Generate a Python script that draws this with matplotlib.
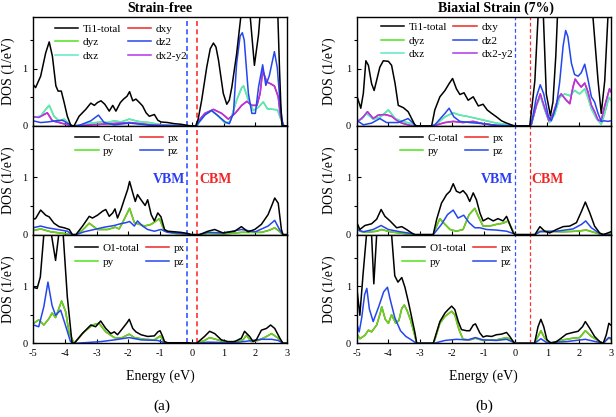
import matplotlib
matplotlib.use("Agg")
import matplotlib.pyplot as plt
from matplotlib.ticker import MultipleLocator, FixedLocator

plt.rcParams['font.family'] = ['Liberation Serif', 'DejaVu Serif']
plt.rcParams['axes.unicode_minus'] = False

# ---------------- (a) strain-free ----------------
# Ti1 panel
a_ti_total_e = [-5.0, -4.92, -4.76, -4.6, -4.49, -4.39, -4.28, -4.21, -4.11, -4.02, -3.92, -3.81, -3.71,
                -3.55, -3.34, -3.18, -3.07, -2.97, -2.86, -2.74, -2.6, -2.49, -2.39, -2.25, -2.15, -2.04,
                -1.96, -1.86, -1.76, -1.65, -1.55, -1.44, -1.34, -1.18, -1.07, -0.97, -0.76, -0.55, -0.34,
                -0.13, -0.02, 0.12, 0.2, 0.31, 0.47, 0.58, 0.68, 0.76, 0.84, 0.99, 1.1, 1.18, 1.26, 1.41,
                1.52, 1.6, 1.7, 1.78, 1.84, 1.97, 2.1, 2.15, 2.3, 2.5, 2.65, 2.71, 2.76, 2.8, 2.84, 2.9, 3.0]
a_ti_total = [0.73, 0.67, 0.87, 1.28, 1.47, 1.22, 0.70, 0.61, 0.61, 0.41, 0.17, 0.01, 0.0,
              0.17, 0.29, 0.40, 0.36, 0.41, 0.44, 0.38, 0.26, 0.36, 0.26, 0.41, 0.47, 0.52,
              0.60, 0.44, 0.47, 0.41, 0.35, 0.23, 0.17, 0.20, 0.10, 0.07, 0.06, 0.04, 0.03,
              0.01, 0.0, 0.0, 0.12, 0.45, 1.03, 1.35, 1.45, 1.38, 1.15, 0.57, 0.38, 0.45, 0.68, 1.26,
              1.8, 2.2, 2.4, 2.1, 1.9, 1.06, 1.6, 1.95, 2.8, 3.0, 2.5, 1.9, 1.0, 0.4, 0.0, 0.0, 0.0]

a_ti_dz2_e = [-5.0, -4.76, -4.55, -4.28, -4.07, -3.92, -3.75, -3.55, -3.18, -2.94, -2.76, -2.44, -1.96,
              -1.26, -0.5, -0.1, 0.15, 0.2, 0.41, 0.62, 0.8, 1.05, 1.18, 1.31, 1.41, 1.52, 1.59, 1.65,
              1.78, 1.89, 2.0, 2.1, 2.23, 2.33, 2.44, 2.6, 2.69, 2.79, 2.86, 2.9, 3.0]
a_ti_dz2 = [0.09, 0.06, 0.07, 0.09, 0.10, 0.05, 0.0, 0.01, 0.09, 0.19, 0.06, 0.02, 0.05,
            0.01, 0.005, 0.0, 0.0, 0.05, 0.19, 0.27, 0.19, 0.07, 0.04, 0.22, 1.09, 1.57, 1.63, 1.5,
            0.57, 0.22, 0.22, 0.68, 1.07, 0.71, 0.88, 1.3, 1.02, 0.32, 0.05, 0.0, 0.0]

a_ti_dx2y2_e = [-5.0, -4.82, -4.55, -4.39, -4.18, -3.97, -3.75, -3.5, -2.86, -1.96, -1.3, -0.5, -0.1,
                0.15, 0.2, 0.41, 0.68, 0.94, 1.15, 1.36, 1.57, 1.73, 1.89, 2.05, 2.15, 2.23, 2.36, 2.47,
                2.6, 2.72, 2.79, 2.86, 2.9, 3.0]
a_ti_dx2y2 = [0.16, 0.15, 0.23, 0.09, 0.06, 0.03, 0.0, 0.01, 0.03, 0.06, 0.02, 0.005, 0.0,
              0.0, 0.08, 0.22, 0.29, 0.22, 0.12, 0.22, 0.36, 0.43, 0.36, 0.36, 0.57, 0.97, 0.77, 0.74,
              0.70, 0.51, 0.17, 0.05, 0.0, 0.0]

a_ti_dxz_e = [-5.0, -4.76, -4.6, -4.49, -4.34, -4.18, -4.02, -3.86, -3.75, -3.55, -3.18, -2.86, -2.65,
              -2.44, -2.23, -1.97, -1.76, -1.6, -1.34, -1.07, -0.76, -0.1, 0.15, 0.2, 0.41, 0.62, 0.84,
              1.05, 1.2, 1.41, 1.57, 1.63, 1.78, 1.94, 2.1, 2.25, 2.38, 2.57, 2.7, 2.8, 2.88, 3.0]
a_ti_dxz = [0.15, 0.17, 0.29, 0.36, 0.17, 0.09, 0.12, 0.03, 0.0, 0.01, 0.05, 0.07, 0.06,
            0.09, 0.07, 0.12, 0.09, 0.07, 0.06, 0.03, 0.01, 0.0, 0.0, 0.04, 0.2, 0.27, 0.17,
            0.05, 0.07, 0.45, 0.67, 0.70, 0.45, 0.27, 0.33, 0.42, 0.3, 0.29, 0.28, 0.12, 0.0, 0.0]

# dxy / dyz lie under dx2-y2 / dxz (degenerate)
a_ti_dxy_e, a_ti_dxy = a_ti_dx2y2_e, a_ti_dx2y2
a_ti_dyz_e, a_ti_dyz = a_ti_dxz_e, a_ti_dxz

# C panel
a_c_total_e = [-5.0, -4.92, -4.76, -4.6, -4.49, -4.34, -4.18, -4.02, -3.86, -3.76, -3.65, -3.44, -3.23,
               -3.13, -2.97, -2.81, -2.71, -2.6, -2.49, -2.42, -2.34, -2.23, -2.13, -2.02, -1.96, -1.86,
               -1.78, -1.71, -1.6, -1.47, -1.39, -1.28, -1.18, -1.07, -0.97, -0.86, -0.76, -0.55, -0.34,
               -0.13, -0.02, 0.24, 0.51, 0.72, 0.98, 1.35, 1.56, 1.77, 1.98, 2.19, 2.4, 2.51, 2.61, 2.72,
               2.82, 2.87, 3.0]
a_c_total = [0.27, 0.28, 0.43, 0.34, 0.31, 0.20, 0.14, 0.12, 0.09, 0.0, 0.0, 0.15, 0.32,
             0.29, 0.34, 0.41, 0.44, 0.32, 0.38, 0.45, 0.29, 0.44, 0.61, 0.79, 0.93, 0.73,
             0.58, 0.70, 0.61, 0.51, 0.61, 0.35, 0.24, 0.38, 0.31, 0.09, 0.06, 0.05, 0.04,
             0.02, 0.0, 0.0, 0.06, 0.09, 0.03, 0.06, 0.14, 0.05, 0.09, 0.18, 0.35, 0.50, 0.64, 0.55,
             0.09, 0.0, 0.0]

a_c_py_e = [-5.0, -4.76, -4.44, -4.02, -3.76, -3.65, -3.44, -3.23, -2.97, -2.65, -2.41, -2.29, -2.18,
            -1.96, -1.81, -1.65, -1.49, -1.28, -1.02, -0.86, -0.5, -0.1, -0.02, 0.24, 0.5, 1.0, 1.56,
            2.2, 2.45, 2.61, 2.75, 2.87, 3.0]
a_c_py = [0.07, 0.10, 0.05, 0.02, 0.0, 0.0, 0.08, 0.2, 0.09, 0.09, 0.13, 0.1, 0.21,
          0.46, 0.21, 0.18, 0.15, 0.18, 0.28, 0.06, 0.02, 0.01, 0.0, 0.0, 0.02, 0.01, 0.04,
          0.04, 0.08, 0.12, 0.06, 0.0, 0.0]

a_c_pz_e = [-5.0, -4.76, -4.55, -4.23, -3.92, -3.76, -3.65, -3.39, -3.07, -2.76, -2.44, -2.25, -2.07,
            -1.96, -1.81, -1.71, -1.55, -1.39, -1.18, -0.97, -0.76, -0.3, -0.02, 0.24, 0.5, 1.0, 1.56,
            2.0, 2.4, 2.61, 2.76, 2.87, 3.0]
a_c_pz = [0.12, 0.15, 0.12, 0.09, 0.06, 0.0, 0.0, 0.05, 0.09, 0.13, 0.16, 0.19, 0.21,
          0.23, 0.15, 0.24, 0.15, 0.09, 0.06, 0.09, 0.04, 0.02, 0.0, 0.0, 0.04, 0.03, 0.09,
          0.05, 0.15, 0.25, 0.09, 0.0, 0.0]

a_c_px_e, a_c_px = a_c_py_e, a_c_py

# O1 panel
a_o_total_e = [-5.0, -4.87, -4.77, -4.66, -4.55, -4.42, -4.29, -4.19, -4.14, -4.05, -3.92, -3.77, -3.7,
               -3.45, -3.18, -3.03, -2.87, -2.71, -2.55, -2.44, -2.34, -2.18, -2.04, -1.97, -1.86, -1.76,
               -1.6, -1.39, -1.18, -1.07, -1.0, -0.92, -0.86, -0.76, -0.1, -0.02, 0.15, 0.4, 0.56, 0.72,
               0.93, 1.14, 1.35, 1.56, 1.66, 1.82, 1.93, 2.03, 2.19, 2.35, 2.48, 2.61, 2.77, 2.87, 3.0]
a_o_total = [0.98, 0.96, 1.16, 1.9, 2.5, 1.9, 1.45, 1.9, 2.2, 1.9, 0.81, 0.0, 0.0,
             0.17, 0.32, 0.29, 0.39, 0.26, 0.17, 0.2, 0.15, 0.26, 0.36, 0.42, 0.26, 0.2,
             0.15, 0.12, 0.13, 0.2, 0.22, 0.12, 0.03, 0.01, 0.01, 0.0, 0.0, 0.12, 0.21, 0.17,
             0.06, 0.03, 0.03, 0.09, 0.21, 0.12, 0.03, 0.06, 0.23, 0.26, 0.32, 0.26, 0.09, 0.0, 0.0]

a_o_py_e = [-4.98, -4.82, -4.66, -4.5, -4.4, -4.29, -4.1, -3.97, -3.87, -3.71, -3.55, -3.39, -3.13,
            -2.92, -2.71, -2.44, -2.23, -1.97, -1.81, -1.49, -1.18, -0.99, -0.86, -0.1, -0.02, 0.15,
            0.4, 0.56, 0.82, 1.14, 1.61, 1.72, 1.87, 2.08, 2.29, 2.51, 2.72, 2.87, 3.0]
a_o_py = [0.35, 0.41, 0.32, 0.43, 0.53, 0.45, 0.74, 0.55, 0.2, 0.0, 0.1, 0.2, 0.32,
          0.35, 0.2, 0.1, 0.09, 0.16, 0.1, 0.07, 0.06, 0.13, 0.01, 0.005, 0.0, 0.0,
          0.05, 0.1, 0.06, 0.01, 0.06, 0.14, 0.03, 0.05, 0.1, 0.17, 0.09, 0.0, 0.0]

a_o_pz_e = [-4.98, -4.82, -4.66, -4.53, -4.4, -4.29, -4.13, -3.97, -3.82, -3.7, -3.39, -2.86, -2.44,
            -1.97, -1.6, -1.07, -0.86, -0.02, 0.15, 0.5, 1.35, 2.19, 2.51, 2.72, 2.87, 3.0]
a_o_pz = [0.32, 0.29, 0.64, 1.07, 0.66, 0.49, 0.58, 0.3, 0.03, 0.0, 0.01, 0.03, 0.06,
          0.1, 0.06, 0.05, 0.01, 0.0, 0.0, 0.02, 0.01, 0.07, 0.07, 0.05, 0.0, 0.0]

a_o_px_e, a_o_px = a_o_py_e, a_o_py

# ---------------- (b) biaxial strain 7% ----------------
b_ti_total_e = [-5.0, -4.87, -4.79, -4.71, -4.63, -4.53, -4.45, -4.37, -4.27, -4.16, -4.0, -3.9, -3.79,
                -3.69, -3.53, -3.38, -3.27, -3.17, -3.11, -2.64, -2.54, -2.38, -2.22, -2.09, -1.98, -1.86,
                -1.75, -1.62, -1.49, -1.33, -1.17, -1.02, -0.89, -0.75, -0.6, -0.44, -0.28, -0.13, -0.03,
                0.45, 0.61, 0.71, 0.8, 0.88, 0.97, 1.1, 1.18, 1.27, 1.32, 1.5, 2.0, 2.3, 2.44, 2.6, 2.7,
                2.81, 2.91, 3.0]
b_ti_total = [0.54, 0.31, 0.57, 1.14, 1.06, 0.74, 0.62, 0.80, 1.03, 1.14, 1.13, 1.06, 0.74,
              0.36, 0.32, 0.25, 0.13, 0.02, 0.0, 0.0, 0.28, 0.51, 0.62, 0.74, 0.83, 0.65,
              0.55, 0.58, 0.45, 0.51, 0.35, 0.38, 0.28, 0.22, 0.16, 0.09, 0.05, 0.02, 0.0,
              0.0, 0.79, 1.9, 2.6, 1.9, 0.56, 0.18, 0.42, 1.23, 1.9, 3.0, 3.5, 2.6, 1.9, 0.79, 0.22,
              0.79, 1.9, 2.5]

b_ti_dz2_e = [-5.0, -4.79, -4.53, -4.27, -4.06, -3.69, -3.38, -3.22, -3.13, -2.64, -2.54, -2.22, -2.09,
              -1.94, -1.75, -1.44, -1.02, -0.6, -0.03, 0.45, 0.5, 0.66, 0.78, 0.89, 1.03, 1.13, 1.29,
              1.39, 1.5, 1.58, 1.65, 1.76, 1.86, 1.97, 2.07, 2.18, 2.28, 2.39, 2.49, 2.6, 2.7, 2.8,
              2.91, 3.0]
b_ti_dz2 = [0.1, 0.02, 0.05, 0.13, 0.06, 0.06, 0.13, 0.05, 0.0, 0.0, 0.02, 0.22, 0.31,
            0.16, 0.08, 0.06, 0.04, 0.01, 0.0, 0.0, 0.03, 0.51, 0.72, 0.56, 0.18, 0.09, 0.36,
            0.76, 1.4, 1.67, 1.56, 1.1, 0.9, 0.87, 0.93, 1.08, 0.82, 0.51, 0.42, 0.22, 0.08, 0.09,
            0.08, 0.09]

b_ti_dx2y2_e = [-5.0, -4.79, -4.66, -4.48, -4.32, -4.11, -3.9, -3.74, -3.58, -3.32, -3.13, -2.64, -2.54,
                -2.22, -1.96, -1.65, -1.33, -1.02, -0.6, -0.03, 0.45, 0.5, 0.66, 0.78, 0.91, 1.05, 1.18,
                1.34, 1.44, 1.6, 1.71, 1.81, 1.88, 1.98, 2.07, 2.18, 2.28, 2.39, 2.49, 2.6, 2.7, 2.8,
                2.96, 3.0]
b_ti_dx2y2 = [0.06, 0.16, 0.25, 0.13, 0.19, 0.2, 0.17, 0.1, 0.05, 0.01, 0.0, 0.0, 0.01,
              0.06, 0.08, 0.06, 0.08, 0.04, 0.01, 0.0, 0.0, 0.03, 0.36, 0.56, 0.33, 0.09, 0.2,
              0.48, 0.56, 0.45, 0.39, 0.68, 0.82, 0.74, 0.68, 0.75, 0.6, 0.36, 0.25, 0.1, 0.09, 0.33,
              0.65, 0.6]

b_ti_dxz_e = [-5.0, -4.84, -4.69, -4.48, -4.27, -4.0, -3.79, -3.58, -3.32, -3.13, -2.64, -2.5, -2.22,
              -1.96, -1.75, -1.54, -1.22, -0.91, -0.6, -0.2, -0.03, 0.45, 0.5, 0.66, 0.79, 0.91, 1.07,
              1.23, 1.39, 1.55, 1.71, 1.86, 2.02, 2.18, 2.28, 2.39, 2.55, 2.7, 2.8, 2.94, 3.0]
b_ti_dxz = [0.1, 0.12, 0.22, 0.12, 0.15, 0.28, 0.13, 0.08, 0.05, 0.0, 0.0, 0.03, 0.16,
            0.23, 0.19, 0.17, 0.13, 0.09, 0.05, 0.02, 0.0, 0.0, 0.03, 0.36, 0.52, 0.3, 0.06,
            0.2, 0.5, 0.56, 0.53, 0.62, 0.56, 0.65, 0.5, 0.3, 0.13, 0.03, 0.2, 0.5, 0.45]

b_ti_dxy_e, b_ti_dxy = b_ti_dx2y2_e, b_ti_dx2y2
b_ti_dyz_e, b_ti_dyz = b_ti_dxz_e, b_ti_dxz

b_c_total_e = [-5.0, -4.9, -4.74, -4.53, -4.37, -4.23, -4.11, -3.95, -3.74, -3.58, -3.43, -3.27, -3.17,
               -2.59, -2.48, -2.33, -2.17, -2.06, -1.96, -1.86, -1.75, -1.65, -1.54, -1.44, -1.33, -1.23,
               -1.12, -1.02, -0.86, -0.7, -0.55, -0.39, -0.28, -0.18, -0.07, 0.0, 0.61, 0.77, 0.92, 1.08,
               1.29, 1.5, 1.71, 1.92, 2.08, 2.2, 2.34, 2.49, 2.65, 2.76, 2.91, 3.0]
b_c_total = [0.22, 0.09, 0.16, 0.19, 0.27, 0.44, 0.32, 0.24, 0.12, 0.14, 0.09, 0.03, 0.0,
             0.0, 0.27, 0.55, 0.70, 0.76, 0.89, 0.76, 0.73, 0.77, 0.70, 0.58, 0.73, 0.61,
             0.38, 0.24, 0.29, 0.24, 0.28, 0.24, 0.32, 0.18, 0.03, 0.0, 0.0, 0.14, 0.06, 0.03,
             0.09, 0.14, 0.15, 0.21, 0.41, 0.57, 0.38, 0.15, 0.03, 0.0, 0.03, 0.05]

b_c_py_e = [-5.0, -4.9, -4.69, -4.37, -4.21, -3.95, -3.53, -3.17, -2.59, -2.53, -2.38, -2.22, -2.06,
            -1.86, -1.65, -1.46, -1.28, -1.17, -1.02, -0.81, -0.6, -0.39, -0.23, -0.13, -0.02, 0.61,
            0.77, 1.5, 1.92, 2.23, 2.54, 2.7, 2.97, 3.0]
b_c_py = [0.18, 0.06, 0.04, 0.06, 0.09, 0.05, 0.02, 0.0, 0.0, 0.09, 0.28, 0.18, 0.09,
          0.06, 0.09, 0.35, 0.46, 0.32, 0.15, 0.15, 0.18, 0.2, 0.24, 0.12, 0.0, 0.0,
          0.06, 0.05, 0.06, 0.08, 0.03, 0.0, 0.02, 0.02]

b_c_pz_e = [-5.0, -4.79, -4.48, -4.23, -4.0, -3.63, -3.27, -3.17, -2.59, -2.53, -2.33, -2.14, -1.96,
            -1.81, -1.63, -1.46, -1.28, -1.12, -0.91, -0.6, -0.28, -0.07, 0.0, 0.61, 0.77, 1.29, 1.81,
            2.08, 2.21, 2.39, 2.65, 2.76, 3.0]
b_c_pz = [0.09, 0.05, 0.09, 0.16, 0.09, 0.05, 0.02, 0.0, 0.0, 0.04, 0.18, 0.35, 0.43,
          0.29, 0.34, 0.21, 0.12, 0.12, 0.09, 0.08, 0.06, 0.02, 0.0, 0.0, 0.05, 0.06, 0.1,
          0.18, 0.24, 0.12, 0.02, 0.0, 0.0]

b_c_px_e, b_c_px = b_c_py_e, b_c_py

b_o_total_e = [-5.0, -4.9, -4.8, -4.69, -4.61, -4.53, -4.46, -4.37, -4.15, -3.9, -3.8, -3.7, -3.58,
               -3.48, -3.37, -3.27, -3.16, -3.11, -2.59, -2.54, -2.38, -2.22, -2.12, -2.01, -1.91, -1.8,
               -1.7, -1.54, -1.44, -1.33, -1.26, -1.12, -1.02, -0.91, -0.75, -0.6, -0.44, -0.28, -0.18,
               -0.07, -0.02, 0.6, 0.71, 0.8, 0.89, 0.99, 1.13, 1.29, 1.44, 1.6, 1.81, 1.97, 2.11, 2.2,
               2.34, 2.49, 2.65, 2.76, 2.86, 2.94, 3.0]
b_o_total = [1.0, 0.49, 1.2, 1.9, 2.4, 1.9, 1.04, 1.9, 2.6, 1.9, 1.18, 1.07, 1.15,
             0.98, 0.72, 0.46, 0.17, 0.0, 0.0, 0.09, 0.38, 0.53, 0.59, 0.65, 0.59, 0.38,
             0.24, 0.22, 0.22, 0.32, 0.34, 0.18, 0.11, 0.13, 0.12, 0.15, 0.16, 0.19, 0.12,
             0.03, 0.0, 0.0, 0.29, 0.42, 0.29, 0.06, 0.0, 0.03, 0.09, 0.16, 0.19, 0.21, 0.29, 0.38,
             0.26, 0.12, 0.03, 0.0, 0.15, 0.35, 0.32]

b_o_py_e = [-5.0, -4.9, -4.74, -4.63, -4.53, -4.37, -4.26, -4.21, -4.1, -4.0, -3.9, -3.77, -3.67,
            -3.58, -3.5, -3.41, -3.3, -3.2, -3.11, -2.59, -2.54, -2.38, -2.22, -2.01, -1.91, -1.78,
            -1.65, -1.44, -1.26, -1.02, -0.6, -0.28, -0.13, -0.02, 0.6, 0.71, 0.8, 0.92, 1.08, 1.5,
            1.81, 2.02, 2.2, 2.39, 2.65, 2.76, 2.94, 3.0]
b_o_py = [0.17, 0.08, 0.14, 0.23, 0.2, 0.32, 0.52, 0.64, 0.42, 0.35, 0.5, 0.35, 0.4,
          0.61, 0.67, 0.57, 0.4, 0.2, 0.0, 0.0, 0.06, 0.35, 0.47, 0.56, 0.5, 0.24,
          0.07, 0.06, 0.09, 0.05, 0.06, 0.1, 0.06, 0.0, 0.0, 0.12, 0.22, 0.09, 0.0, 0.06,
          0.09, 0.1, 0.22, 0.12, 0.03, 0.0, 0.1, 0.07]

b_o_pz_e = [-5.0, -4.92, -4.84, -4.75, -4.68, -4.6, -4.48, -4.3, -4.15, -4.03, -3.95, -3.8, -3.62,
            -3.45, -3.25, -3.12, -2.59, -2.5, -2.22, -1.86, -1.5, -1.26, -1.02, -0.6, -0.28, -0.07,
            -0.02, 0.6, 0.8, 0.99, 1.6, 2.2, 2.6, 2.76, 2.94, 3.0]
b_o_pz = [0.35, 0.2, 0.45, 0.85, 0.96, 0.6, 0.38, 0.65, 0.9, 0.98, 0.78, 0.45, 0.22,
          0.12, 0.05, 0.0, 0.0, 0.01, 0.05, 0.07, 0.06, 0.1, 0.06, 0.05, 0.07, 0.02,
          0.0, 0.0, 0.08, 0.01, 0.03, 0.07, 0.02, 0.0, 0.1, 0.09]

b_o_px_e, b_o_px = b_o_py_e, b_o_py

# band edges
vbm = [-0.15, 0.0]
cbm = [0.15, 0.46]
titles = ['Strain-free', 'Biaxial Strain (7%)']
tags = ['(a)', '(b)']

BLACK = '#000000'
RED = '#ee2626'
GREEN = '#4fe21c'
BLUE = '#2446ee'
CYAN = '#5fe6c8'
MAGENTA = '#b034ee'

fig = plt.figure(figsize=(6.16, 4.17), dpi=100)
lefts = [0.0536, 0.579]
width = 0.4125
bottoms = [0.6979, 0.4373, 0.1767]
height = 0.2606


def make_panel(ax, lines, order, ncol_anchor, ylab_x):
    handles = {}
    for e, v, c, lab in lines:
        h, = ax.plot(e, v, color=c, lw=1.1, label=lab, solid_joinstyle='round')
        handles[lab] = h
    hs = [handles[k] for k in order]
    ax.legend(hs, order, ncol=2, loc='upper left', bbox_to_anchor=ncol_anchor,
              frameon=False, fontsize=8, handlelength=2.1, handletextpad=0.4,
              columnspacing=0.55, labelspacing=0.34, borderpad=0, borderaxespad=0)
    ax.set_xlim(-5, 3)
    ax.set_ylim(0, 1.9)
    ax.xaxis.set_major_locator(MultipleLocator(1))
    ax.yaxis.set_major_locator(FixedLocator([0, 1]))
    ax.yaxis.set_minor_locator(FixedLocator([0.5, 1.5]))
    ax.tick_params(which='major', direction='in', length=3, width=0.8, labelsize=7.5, pad=4)
    ax.tick_params(which='minor', axis='y', direction='out', length=2.5, width=0.8)
    for s in ax.spines.values():
        s.set_linewidth(1.0)
    ax.set_ylabel('DOS (1/eV)', fontsize=10)
    ax.yaxis.set_label_coords(ylab_x, 0.5)


panels = [
    [  # (a)
        ([(a_ti_dxy_e, a_ti_dxy, RED, 'dxy'), (a_ti_dyz_e, a_ti_dyz, GREEN, 'dyz'),
          (a_ti_dxz_e, a_ti_dxz, CYAN, 'dxz'), (a_ti_dx2y2_e, a_ti_dx2y2, MAGENTA, 'dx2-y2'),
          (a_ti_dz2_e, a_ti_dz2, BLUE, 'dz2'), (a_ti_total_e, a_ti_total, BLACK, 'Ti1-total')],
         ['Ti1-total', 'dyz', 'dxz', 'dxy', 'dz2', 'dx2-y2'], (0.087, 0.94)),
        ([(a_c_px_e, a_c_px, RED, 'px'), (a_c_py_e, a_c_py, GREEN, 'py'),
          (a_c_pz_e, a_c_pz, BLUE, 'pz'), (a_c_total_e, a_c_total, BLACK, 'C-total')],
         ['C-total', 'py', 'px', 'pz'], (0.166, 0.935)),
        ([(a_o_px_e, a_o_px, RED, 'px'), (a_o_py_e, a_o_py, GREEN, 'py'),
          (a_o_pz_e, a_o_pz, BLUE, 'pz'), (a_o_total_e, a_o_total, BLACK, 'O1-total')],
         ['O1-total', 'py', 'px', 'pz'], (0.165, 0.92)),
    ],
    [  # (b)
        ([(b_ti_dxy_e, b_ti_dxy, RED, 'dxy'), (b_ti_dyz_e, b_ti_dyz, GREEN, 'dyz'),
          (b_ti_dxz_e, b_ti_dxz, CYAN, 'dxz'), (b_ti_dx2y2_e, b_ti_dx2y2, MAGENTA, 'dx2-y2'),
          (b_ti_dz2_e, b_ti_dz2, BLUE, 'dz2'), (b_ti_total_e, b_ti_total, BLACK, 'Ti1-total')],
         ['Ti1-total', 'dyz', 'dxz', 'dxy', 'dz2', 'dx2-y2'], (0.096, 0.955)),
        ([(b_c_px_e, b_c_px, RED, 'px'), (b_c_py_e, b_c_py, GREEN, 'py'),
          (b_c_pz_e, b_c_pz, BLUE, 'pz'), (b_c_total_e, b_c_total, BLACK, 'C-total')],
         ['C-total', 'py', 'px', 'pz'], (0.17, 0.935)),
        ([(b_o_px_e, b_o_px, RED, 'px'), (b_o_py_e, b_o_py, GREEN, 'py'),
          (b_o_pz_e, b_o_pz, BLUE, 'pz'), (b_o_total_e, b_o_total, BLACK, 'O1-total')],
         ['O1-total', 'py', 'px', 'pz'], (0.177, 0.92)),
    ],
]

ylab_xs = [-0.07, -0.081]
dash_lw = [1.2, 0.9]
vbm_text_x = [-0.2, -0.085]
cbm_text_x = [0.24, 0.51]
title_x = [0.2597, 0.805]
tag_x = [0.2625, 0.787]

for col in range(2):
    axes = []
    for row in range(3):
        ax = fig.add_axes([lefts[col], bottoms[row], width, height])
        lines, order, anchor = panels[col][row]
        make_panel(ax, lines, order, anchor, ylab_xs[col])
        ax.axvline(vbm[col], color='#3355ff', ls=(0, (3, 2)), lw=dash_lw[col], zorder=1)
        ax.axvline(cbm[col], color='#ff3030', ls=(0, (3, 2)), lw=dash_lw[col], zorder=1)
        if row < 2:
            ax.tick_params(labelbottom=False)
        axes.append(ax)
    axes[1].text(vbm_text_x[col], 0.97, 'VBM', color='#2a3cf5', fontsize=10,
                 fontweight='bold', ha='right', va='center')
    axes[1].text(cbm_text_x[col], 0.97, 'CBM', color='#f22424', fontsize=10,
                 fontweight='bold', ha='left', va='center')
    fig.text(title_x[col], 0.979, titles[col], fontsize=10, fontweight='bold',
             ha='center', va='center')
    fig.text(lefts[col] + width / 2, 0.097, 'Energy (eV)', fontsize=10,
             ha='center', va='center')
    fig.text(tag_x[col], 0.026, tags[col], fontsize=11, ha='center', va='center')

fig.savefig('out.png', dpi=100)
